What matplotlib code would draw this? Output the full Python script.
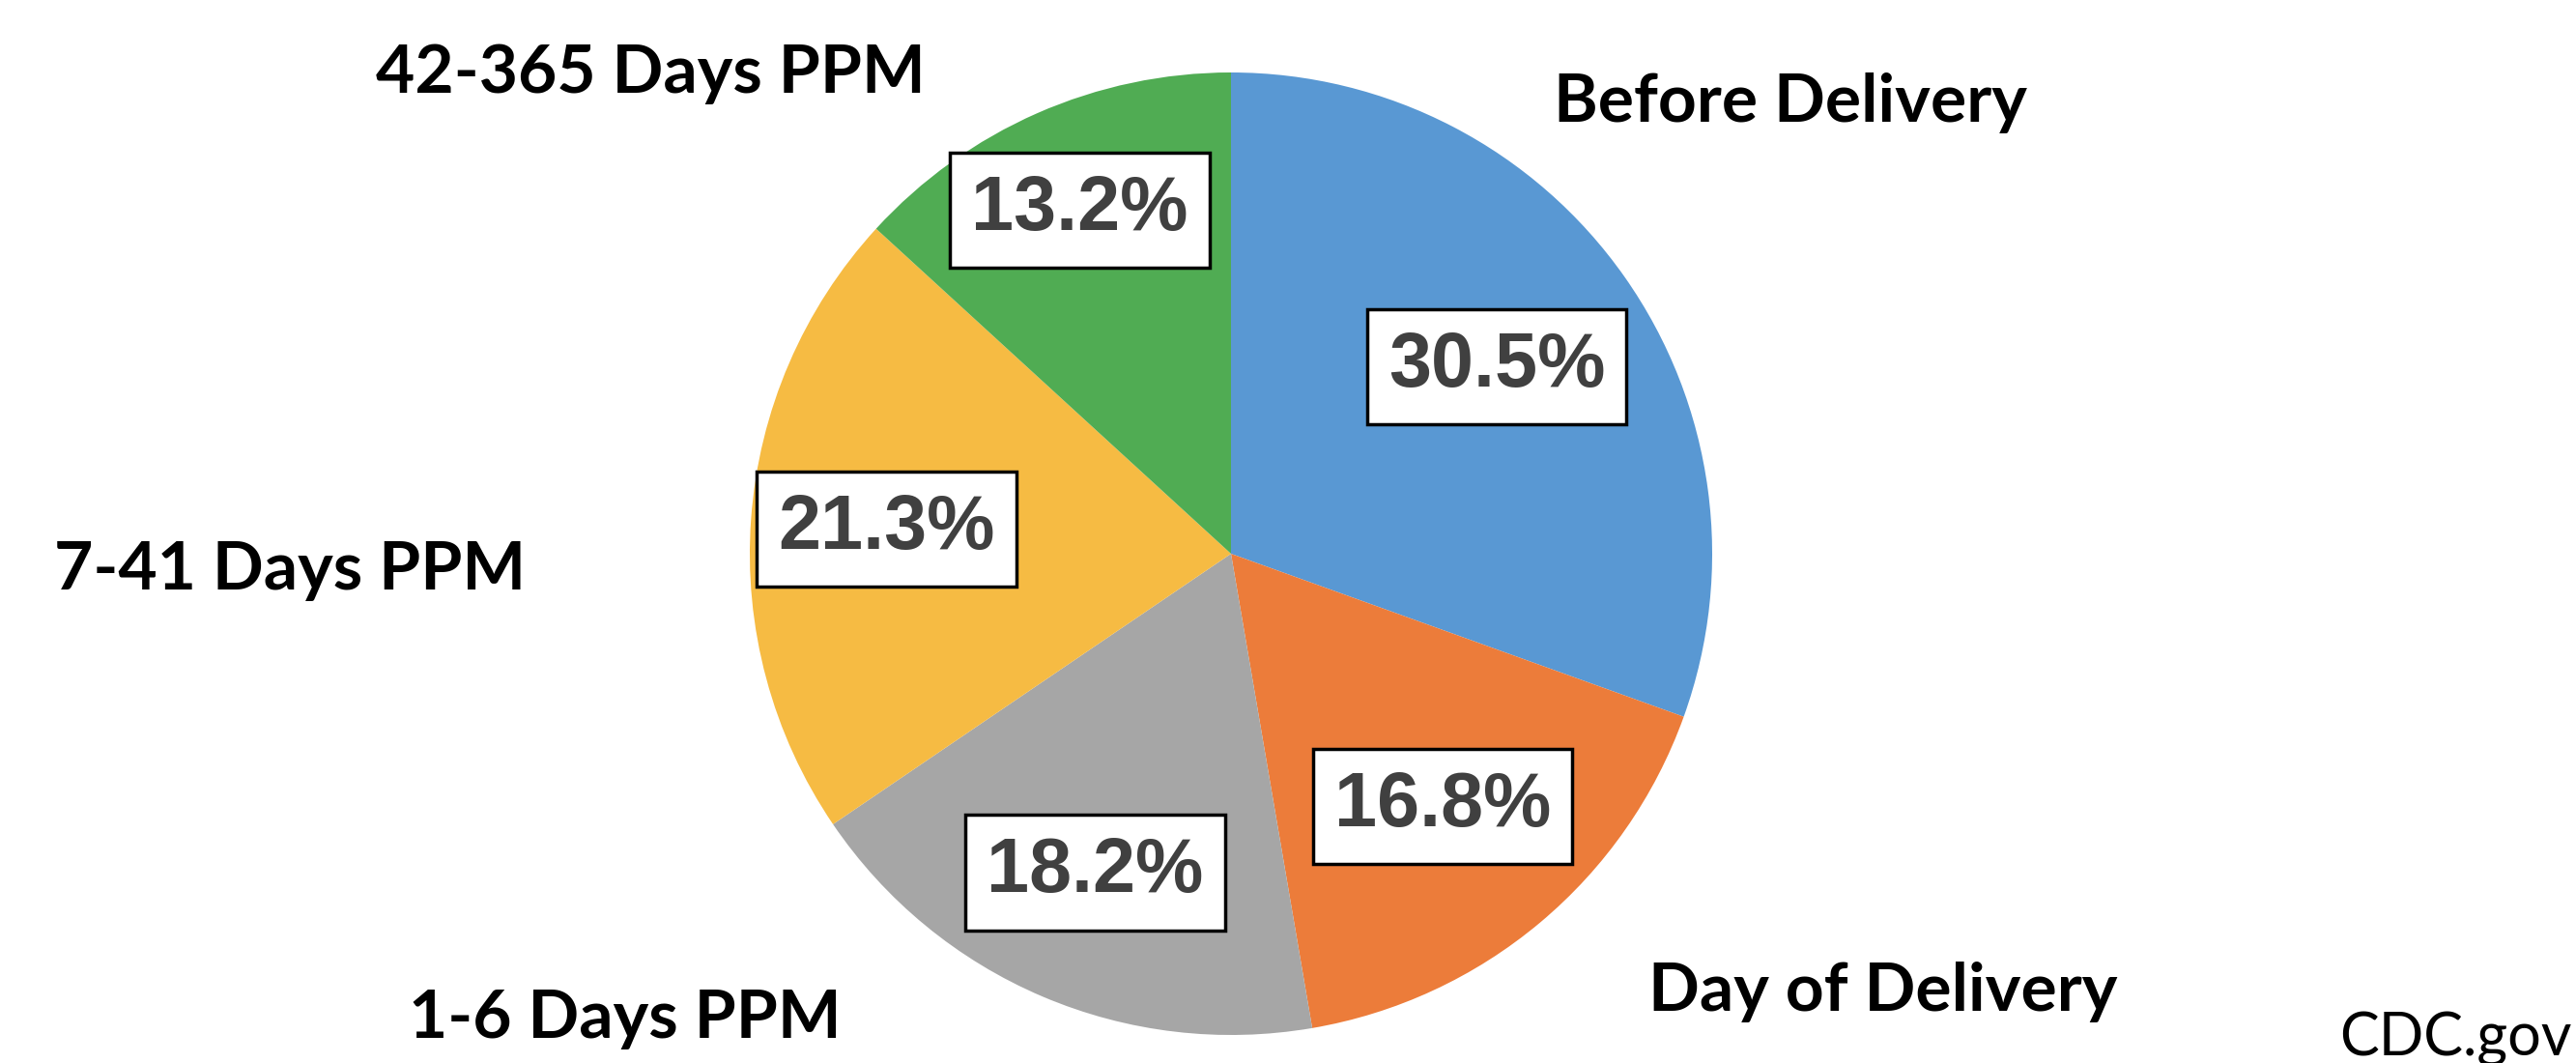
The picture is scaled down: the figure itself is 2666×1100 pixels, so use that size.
import numpy as np
import matplotlib
matplotlib.use('Agg')
import matplotlib.pyplot as plt

# share of deaths by timing relative to delivery
categories = ['Before Delivery', 'Day of Delivery', '1-6 Days PPM', '7-41 Days PPM', '42-365 Days PPM']
percents = [30.5, 16.8, 18.2, 21.3, 13.2]
colors = ['#5998D3', '#EC7C3A', '#A6A6A6', '#F6BB43', '#50AC53']

# where each category name sits (pixels, from top-left)
label_pos = [(1853, 107), (1949, 1027), (647, 1054), (300, 590), (673, 77)]
# how far out each percent box sits, as a fraction of the radius
pct_dist = [0.675, 0.685, 0.72, 0.717, 0.78]

W, H = 2666, 1100
fig = plt.figure(figsize=(W / 100, H / 100), dpi=100)
ax = fig.add_axes([0, 0, 1, 1])

cx, cy, r = 1274, H - 573, 498
wedges, texts, autotexts = ax.pie(
    percents, colors=colors, startangle=90, counterclock=False,
    center=(cx, cy), radius=r, frame=True,
    autopct='%.1f%%', pctdistance=0.72,
    wedgeprops=dict(linewidth=0),
    textprops=dict(fontsize=57, fontweight='bold', color='#404040',
                   family=['Liberation Sans', 'DejaVu Sans']))
ax.set_xlim(0, W)
ax.set_ylim(0, H)
ax.axis('off')

for w, t, d in zip(wedges, autotexts, pct_dist):
    ang = np.deg2rad((w.theta1 + w.theta2) / 2)
    t.set_position((cx + d * r * np.cos(ang), cy + d * r * np.sin(ang)))
    t.set_bbox(dict(boxstyle='square,pad=0.28', facecolor='white',
                    edgecolor='black', linewidth=2.5))

for name, (x, y) in zip(categories, label_pos):
    ax.text(x, H - y, name, ha='center', va='center', fontsize=50,
            fontweight='bold', family=['Lato', 'DejaVu Sans'], color='black')

ax.text(2662, H - 1075, 'CDC.gov', ha='right', va='center', fontsize=44,
        family=['Lato', 'DejaVu Sans'], color='black')

fig.savefig('out.png', dpi=100)
